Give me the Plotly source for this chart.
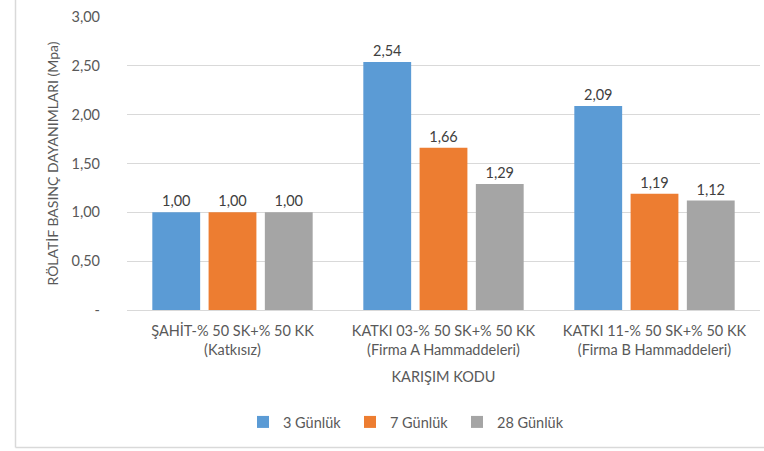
import plotly.graph_objects as go

# Karışım kodları (x ekseni kategorileri)
categories = [
    "ŞAHİT-% 50 SK+% 50 KK<br>(Katkısız)",
    "KATKI 03-% 50 SK+% 50 KK<br>(Firma A Hammaddeleri)",
    "KATKI 11-% 50 SK+% 50 KK<br>(Firma B Hammaddeleri)",
]

# Rölatif basınç dayanımları (Mpa)
gun3 = [1.00, 2.54, 2.09]
gun7 = [1.00, 1.66, 1.19]
gun28 = [1.00, 1.29, 1.12]

series_names = ["3 Günlük", "7 Günlük", "28 Günlük"]
series_colors = ["#5B9BD5", "#ED7D31", "#A5A5A5"]

y_tickvals = [0, 0.5, 1.0, 1.5, 2.0, 2.5, 3.0]
y_ticktext = ["-", "0,50", "1,00", "1,50", "2,00", "2,50", "3,00"]

W, H = 764, 451
ML, MR, MT, MB = 127, 4, 17, 141
FONT = "Lato"
TXT = "#595959"
FS = 14.5

fig = go.Figure()
for name, vals, col in zip(series_names, [gun3, gun7, gun28], series_colors):
    fig.add_trace(go.Bar(
        x=categories, y=vals, name=name,
        marker=dict(color=col, line=dict(width=0)),
        texttemplate="%{y:.2f}", textposition="outside",
        textfont=dict(family=FONT, size=FS, color="#404040"),
        cliponaxis=False,
    ))

# çerçeve (sol ve alt kenar) piksel -> paper dönüşümü
pw, ph = W - ML - MR, H - MT - MB
def px_x(p):
    return (p - ML) / pw
def px_y(p):
    return (H - MB - p) / ph

border = dict(color="#d9d9d9", width=1.5)
fig.add_shape(type="line", xref="paper", yref="paper",
              x0=px_x(15.5), x1=px_x(15.5), y0=px_y(0), y1=px_y(447.5), line=border)
fig.add_shape(type="line", xref="paper", yref="paper",
              x0=px_x(15.5), x1=px_x(764), y0=px_y(447.5), y1=px_y(447.5), line=border)

fig.update_layout(
    width=W, height=H,
    margin=dict(l=ML, r=MR, t=MT, b=MB, autoexpand=False),
    paper_bgcolor="white", plot_bgcolor="white",
    separators=",.",
    barmode="group", bargap=0.2, bargroupgap=0.15,
    font=dict(family=FONT, size=FS, color=TXT),
    showlegend=True,
    legend=dict(orientation="h", x=px_x(231), xanchor="left", y=px_y(422), yanchor="middle",
                font=dict(family=FONT, size=FS, color=TXT), itemwidth=30,
                entrywidth=62, borderwidth=12, bordercolor="rgba(0,0,0,0)",
                bgcolor="rgba(0,0,0,0)", traceorder="normal"),
    xaxis=dict(
        showgrid=False, showline=True, linecolor="#d9d9d9", linewidth=1,
        ticks="", ticklabelstandoff=8, tickfont=dict(family=FONT, size=FS, color=TXT),
        title=dict(text="KARIŞIM KODU", font=dict(family=FONT, size=FS, color=TXT), standoff=14),
        automargin=False,
    ),
    yaxis=dict(
        range=[0, 3.0], tickvals=y_tickvals, ticktext=y_ticktext,
        showgrid=True, gridcolor="#d9d9d9", gridwidth=1,
        zeroline=False, showline=False, ticks="",
        ticklabelstandoff=26,
        tickfont=dict(family=FONT, size=FS, color=TXT),
        title=dict(text="RÖLATİF BASINÇ DAYANIMLARI (Mpa)",
                   font=dict(family=FONT, size=14, color=TXT), standoff=9),
        automargin=False,
    ),
)

fig.write_html("out.html")
